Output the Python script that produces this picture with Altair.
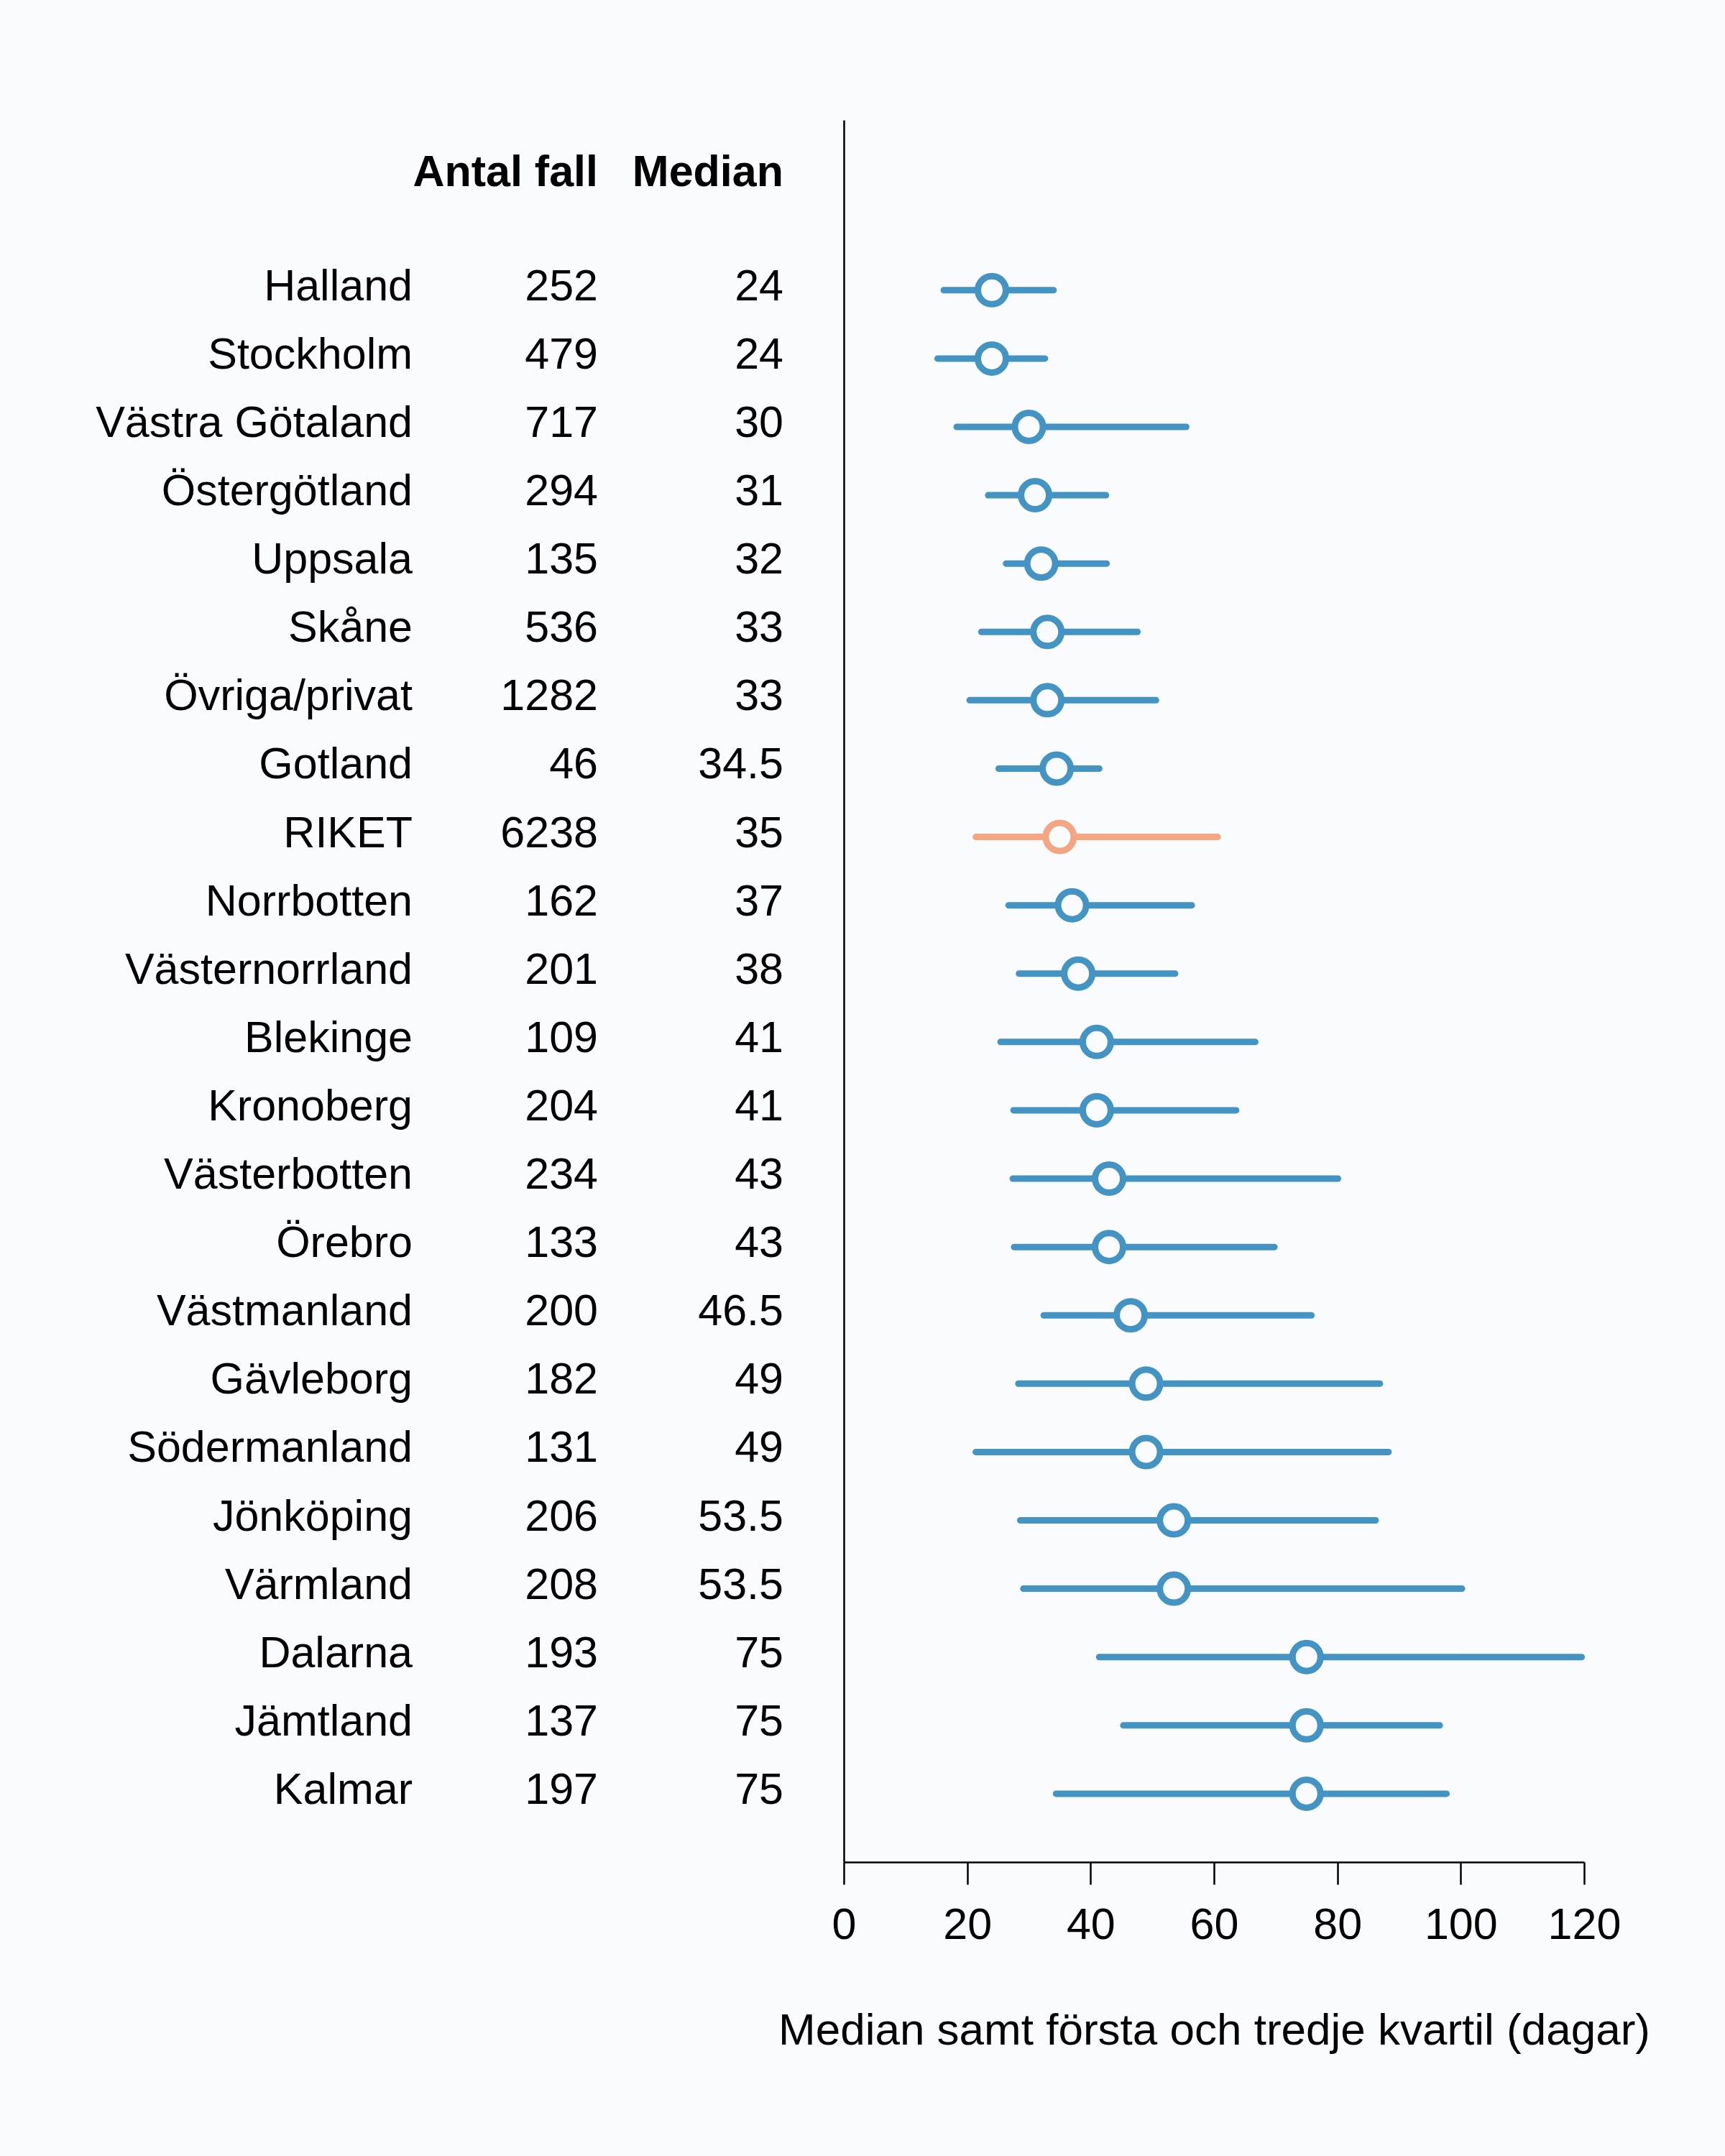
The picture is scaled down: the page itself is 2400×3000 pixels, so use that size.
import altair as alt
import pandas as pd

regions = ["Halland", "Stockholm", "Västra Götaland", "Östergötland", "Uppsala", "Skåne",
           "Övriga/privat", "Gotland", "RIKET", "Norrbotten", "Västernorrland", "Blekinge",
           "Kronoberg", "Västerbotten", "Örebro", "Västmanland", "Gävleborg", "Södermanland",
           "Jönköping", "Värmland", "Dalarna", "Jämtland", "Kalmar"]
antal = [252, 479, 717, 294, 135, 536, 1282, 46, 6238, 162, 201, 109, 204, 234, 133, 200,
         182, 131, 206, 208, 193, 137, 197]
median = [24, 24, 30, 31, 32, 33, 33, 34.5, 35, 37, 38, 41, 41, 43, 43, 46.5, 49, 49,
          53.5, 53.5, 75, 75, 75]
q1 = [16.2, 15.2, 18.3, 23.4, 26.3, 22.3, 20.4, 25.1, 21.4, 26.7, 28.4, 25.4, 27.5, 27.4,
      27.6, 32.4, 28.3, 21.4, 28.6, 29.1, 41.4, 45.3, 34.4]
q3 = [34.0, 32.6, 55.5, 42.5, 42.6, 47.6, 50.6, 41.4, 60.6, 56.4, 53.7, 66.7, 63.6, 80.1,
      69.8, 75.8, 86.9, 88.3, 86.2, 100.2, 119.6, 96.6, 97.7]
x_ticks = [0, 20, 40, 60, 80, 100, 120]
headers = ["Antal fall", "Median"]

FONT = "Liberation Sans"
BLUE = "#4393c3"
ORANGE = "#f4a582"
BG = "#f9fbfe"
FS = 61

df = pd.DataFrame({
    "region": regions,
    "antal_txt": [str(a) for a in antal],
    "median": median,
    "median_txt": [f"{m:g}" for m in median],
    "q1": q1,
    "q3": q3,
    "row": list(range(len(regions))),
    "grp": ["RIKET" if r == "RIKET" else "Län" for r in regions],
})
hdr = pd.DataFrame({"label": headers, "row": [-1.73, -1.73], "col": headers})

yscale = alt.Scale(domain=[-2.49, 23.0], reverse=True, nice=False, zero=False)
xscale = alt.Scale(domain=[0, 120], nice=False, zero=False)
color = alt.Color("grp:N", scale=alt.Scale(domain=["Län", "RIKET"], range=[BLUE, ORANGE]), legend=None)
stroke = alt.Stroke("grp:N", scale=alt.Scale(domain=["Län", "RIKET"], range=[BLUE, ORANGE]), legend=None)

y_ax = alt.Axis(title=None, labels=False, ticks=False, grid=False,
                domainColor="black", domainWidth=2.5)
y_enc = alt.Y("row:Q", scale=yscale, axis=y_ax)

x_ax = alt.Axis(values=x_ticks, title="Median samt första och tredje kvartil (dagar)",
                grid=False, domainColor="black", domainWidth=2.5,
                tickColor="black", tickWidth=2.5, tickSize=31,
                labelFontSize=FS, labelFont=FONT, labelColor="black",
                labelPadding=27, labelFlush=False, labelOverlap=False,
                titleFontSize=62, titleFont=FONT, titleFontWeight="normal",
                titleColor="black", titlePadding=86)

base = alt.Chart(df)

rules = base.mark_rule(strokeWidth=9, strokeCap="round").encode(
    x=alt.X("q1:Q", scale=xscale, axis=x_ax),
    x2="q3:Q",
    y=y_enc,
    color=color,
)

points = base.mark_circle(fill=BG, fillOpacity=1, opacity=1, strokeWidth=9, size=1521).encode(
    x=alt.X("median:Q", scale=xscale, axis=x_ax),
    y=y_enc,
    stroke=stroke,
)

txt_kw = dict(align="right", baseline="middle", fontSize=FS, font=FONT, color="black")
names = base.mark_text(dy=-4, **txt_kw).encode(x=alt.value(-600), y=y_enc, text="region:N")
counts = base.mark_text(dy=-4, **txt_kw).encode(x=alt.value(-342), y=y_enc, text="antal_txt:N")
meds = base.mark_text(dy=-4, **txt_kw).encode(x=alt.value(-84), y=y_enc, text="median_txt:N")

hbase = alt.Chart(hdr)
h1 = hbase.transform_filter(alt.datum.col == "Antal fall").mark_text(fontWeight="bold", dy=2, **txt_kw).encode(
    x=alt.value(-342), y=y_enc, text="label:N")
h2 = hbase.transform_filter(alt.datum.col == "Median").mark_text(fontWeight="bold", dy=2, **txt_kw).encode(
    x=alt.value(-84), y=y_enc, text="label:N")

chart = alt.layer(rules, points, names, counts, meds, h1, h2).properties(
    width=1030, height=2424,
    padding={"left": 1174, "top": 167, "right": 196, "bottom": 409},
    autosize=alt.AutoSizeParams(type="none"),
).configure(background=BG, font=FONT).configure_view(stroke=None)

chart.save("out.html", embed_options={"renderer": "svg", "actions": False})
